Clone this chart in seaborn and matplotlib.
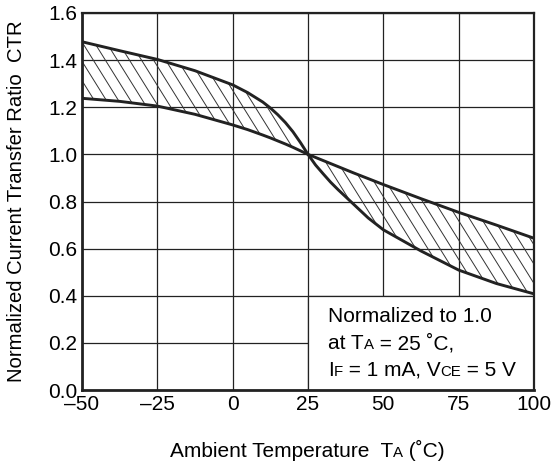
import numpy as np
import pandas as pd
import matplotlib
matplotlib.use("Agg")
import matplotlib.pyplot as plt
import seaborn as sns
from matplotlib.collections import LineCollection
from matplotlib.patches import Rectangle
from matplotlib.offsetbox import TextArea, HPacker, VPacker, AnchoredOffsetbox

# values
temps = [-50, -37.5, -25, -12.5, 0, 5, 10, 12.5, 15, 17.5, 20, 22.5, 25,
         27.5, 30, 32.5, 35, 40, 45, 50, 62.5, 75, 87.5, 100]
ctr_steep = [1.478, 1.44, 1.403, 1.355, 1.295, 1.262, 1.222, 1.197, 1.168, 1.135, 1.096, 1.05, 1.0,
             0.955, 0.918, 0.882, 0.85, 0.79, 0.73, 0.68, 0.59, 0.509, 0.452, 0.408]
ctr_shallow = [1.238, 1.225, 1.205, 1.17, 1.125, 1.105, 1.082, 1.07, 1.057, 1.044, 1.03, 1.015, 1.0,
               0.987, 0.974, 0.961, 0.948, 0.922, 0.897, 0.872, 0.812, 0.754, 0.70, 0.644]

x_ticks = [-50, -25, 0, 25, 50, 75, 100]
x_tick_labels = ["–50", "–25", "0", "25", "50", "75", "100"]
y_ticks = [0.0, 0.2, 0.4, 0.6, 0.8, 1.0, 1.2, 1.4, 1.6]
y_tick_labels = ["0.0", "0.2", "0.4", "0.6", "0.8", "1.0", "1.2", "1.4", "1.6"]

sns.set_theme(style="white")
plt.rcParams['font.family'] = ['Liberation Sans', 'DejaVu Sans']
ink = '#222222'
fs = 15

df = pd.DataFrame({
    'temp': temps * 2,
    'ctr': ctr_steep + ctr_shallow,
    'curve': ['steep'] * len(temps) + ['shallow'] * len(temps),
})

fig = plt.figure(figsize=(5.53, 4.67), dpi=100)
ax = fig.add_axes([82 / 553, 1 - 390 / 467, 452 / 553, 377 / 467])

# hatched band between the two curves
band = ax.fill_between(temps, ctr_steep, ctr_shallow, facecolor='none', edgecolor='none')
slope = 0.0205
starts = np.arange(-120, 110, 4.0)
segs = [[(s, 1.6), (s + 1.6 / slope, 0.0)] for s in starts]
hatch = LineCollection(segs, colors='#333333', linewidths=0.7, zorder=2)
ax.add_collection(hatch)
hatch.set_clip_path(band.get_paths()[0], ax.transData)

sns.lineplot(data=df, x='temp', y='ctr', hue='curve', palette=[ink, ink],
             linewidth=2.1, legend=False, sort=True, ax=ax, zorder=3)

# white box behind the note
ax.add_patch(Rectangle((25, 0), 75, 0.4, facecolor='white', edgecolor=ink,
                       linewidth=0.9, zorder=1))

ax.set_xlim(-50, 100)
ax.set_ylim(0, 1.6)
ax.set_xticks(x_ticks)
ax.set_xticklabels(x_tick_labels)
ax.set_yticks(y_ticks)
ax.set_yticklabels(y_tick_labels)
ax.tick_params(axis='both', length=0, labelsize=fs, colors='black', pad=3.5)
ax.set_axisbelow(True)
ax.grid(True, color=ink, linewidth=0.9)
for side, sp in ax.spines.items():
    sp.set_color(ink)
    sp.set_linewidth(2.0 if side in ('left', 'bottom') else 1.6)
    sp.set_zorder(4)

ax.set_xlabel('')
ax.set_ylabel('Normalized Current Transfer Ratio  CTR', fontsize=14.6, color='black')
ax.yaxis.set_label_coords(-(82 - 26) / 452, 0.5)


def row(parts):
    kids = []
    for txt, small in parts:
        kids.append(TextArea(txt, textprops=dict(fontsize=fs * 0.72 if small else fs,
                                                 color='black')))
    return HPacker(children=kids, align='baseline', pad=0, sep=0)


note = VPacker(children=[
    row([("Normalized to 1.0", False)]),
    row([("at T", False), ("A", True), (" = 25 ˚C,", False)]),
    row([("I", False), ("F", True), (" = 1 mA, V", False), ("CE", True), (" = 5 V", False)]),
], align='left', pad=0, sep=5.5)
ax.add_artist(AnchoredOffsetbox(loc='upper left', child=note, frameon=False, pad=0,
                                borderpad=0, bbox_to_anchor=(328 / 553, 1 - 307 / 467),
                                bbox_transform=fig.transFigure))

xlab = row([("Ambient Temperature  T", False), ("A", True), (" (˚C)", False)])
fig.add_artist(AnchoredOffsetbox(loc='center', child=xlab, frameon=False, pad=0,
                                 borderpad=0, bbox_to_anchor=(307 / 553, 1 - 450 / 467),
                                 bbox_transform=fig.transFigure))

fig.savefig('out.png', dpi=100)
